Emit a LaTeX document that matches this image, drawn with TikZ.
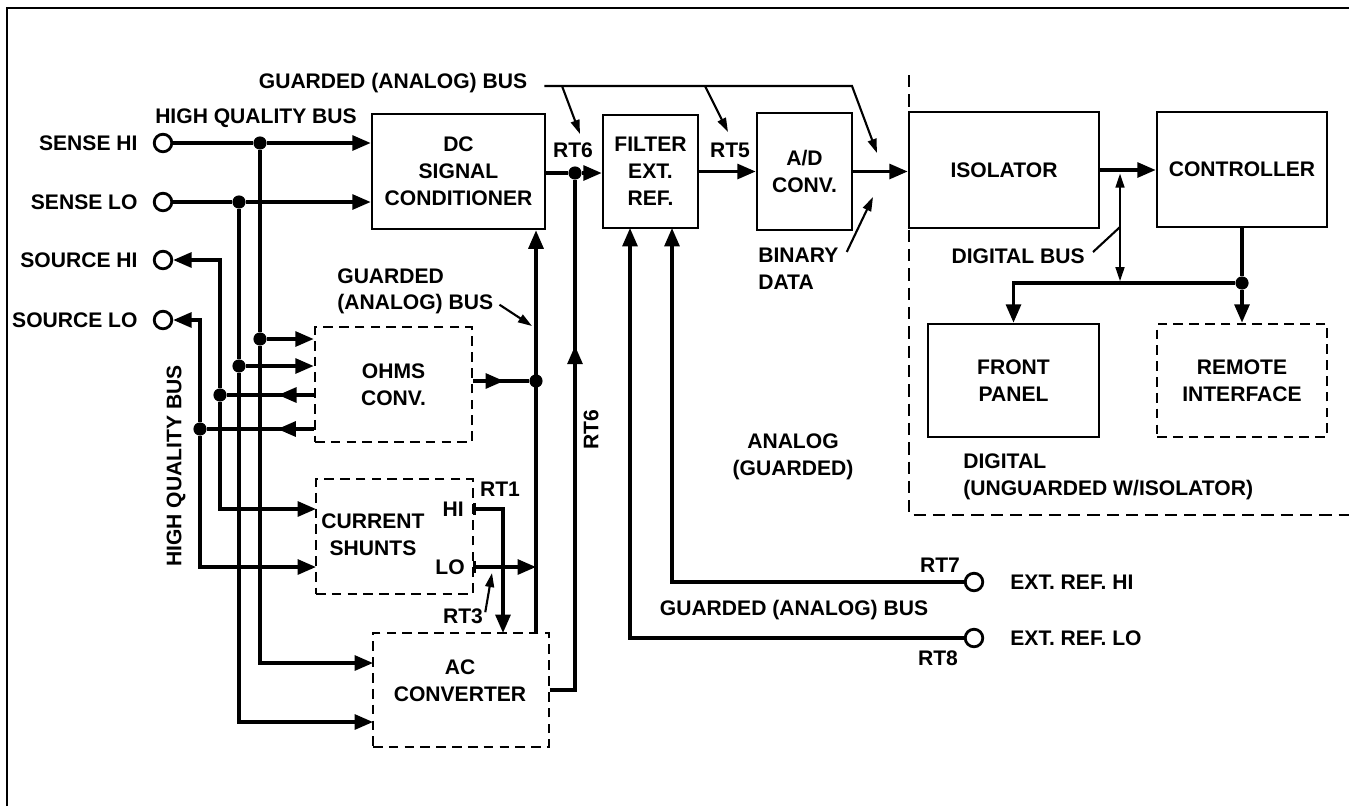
\documentclass[tikz,border=0pt]{standalone}
\usepackage{fontspec}
\setmainfont{Liberation Sans}
\usetikzlibrary{arrows.meta,positioning,calc,decorations.markings}

\begin{document}
\begin{tikzpicture}[x=0.02cm, y=-0.02cm,
    font=\fontsize{12}{15.3}\selectfont\bfseries,
    txt/.style={inner sep=0pt, align=center},
    tlbl/.style={inner sep=0pt, label distance=8.5pt},
    blk/.style={draw, line width=1.5pt, inner sep=2pt, align=center},
    dblk/.style={blk, dash pattern=on 5.5pt off 3.5pt},
    wire/.style={line width=1.9pt},
    arr/.style={wire, -{Triangle[length=10.5pt,width=8.5pt]}},
    ptr/.style={line width=1.2pt, -{Triangle[length=8pt,width=5pt]}},
    sep/.style={line width=1pt, dash pattern=on 7pt off 4pt},
    dot/.style={circle, fill=black, inner sep=0pt, minimum size=7.5pt},
    term/.style={circle, draw, line width=1.6pt, fill=white, inner sep=0pt, minimum size=10pt},
    midarr/.style={postaction={decorate}, decoration={markings,
        mark=at position #1 with {\arrow{Triangle[length=10.5pt,width=8.5pt]}}}},
  ]
  \useasboundingbox (0,0) rectangle (1349,806);
  \draw[line width=1pt] (7,806) -- (7,8) -- (1349,8);

  % blocks
  \node[blk, minimum width=3.46cm, minimum height=2.3cm] (dc) at (458.5,171.5) {DC\\SIGNAL\\CONDITIONER};
  \node[blk, minimum width=1.9cm, minimum height=2.26cm] (flt) at (650.5,171.5) {FILTER\\EXT.\\REF.};
  \node[blk, minimum width=1.9cm, minimum height=2.34cm] (adc) at (804.5,171.5) {A/D\\CONV.};
  \node[blk, minimum width=3.8cm, minimum height=2.32cm] (iso) at (1004,170) {ISOLATOR};
  \node[blk, minimum width=3.4cm, minimum height=2.3cm] (ctl) at (1242,169.5) {CONTROLLER};
  \node[blk, minimum width=3.42cm, minimum height=2.26cm] (fp) at (1013.5,380.5) {FRONT\\PANEL};
  \node[dblk, minimum width=3.4cm, minimum height=2.26cm] (ri) at (1242,380.5) {REMOTE\\INTERFACE};
  \node[dblk, minimum width=3.14cm, minimum height=2.3cm] (ohm) at (393.5,384.5) {OHMS\\CONV.};
  \node[dblk, minimum width=3.14cm, minimum height=2.3cm] (shunt) at (394.5,536.5) {};
  \node[txt] (shtxt) at (373,535) {CURRENT\\SHUNTS};
  \node[dblk, minimum width=3.52cm, minimum height=2.28cm] (acc) at (461,690) {};
  \node[txt] (actxt) at (460,681) {AC\\CONVERTER};

  % terminals
  \node[term, label={[tlbl]left:SENSE HI}] (shi) at (163,143) {};
  \node[term, label={[tlbl]left:SENSE LO}] (slo) at (163,202) {};
  \node[term, label={[tlbl]left:SOURCE HI}] (srchi) at (163,260) {};
  \node[term, label={[tlbl]left:SOURCE LO}] (srclo) at (163,320) {};
  \node[term, label={[tlbl, label distance=14.7pt]right:EXT. REF. HI}] (exthi) at (974,582) {};
  \node[term, label={[tlbl, label distance=14.7pt]right:EXT. REF. LO}] (extlo) at (974,638) {};

  % junctions
  \node[dot] (j1) at (260,143) {};
  \node[dot] (j2) at (239,202) {};
  \node[dot] (j3) at (260,339) {};
  \node[dot] (j4) at (239,366) {};
  \node[dot] (j5) at (220,395) {};
  \node[dot] (j6) at (200,429) {};
  \node[dot] (j7) at (536,381) {};
  \node[dot] (j8) at (575,173) {};
  \node[dot] (j9) at (1242,283) {};

  \coordinate (si1) at (316,509);
  \coordinate (si2) at (316,567);
  \coordinate (ai1) at (373,663);
  \coordinate (ai2) at (373,722);
  \coordinate (sho1) at (473,509);
  \coordinate (sho2) at (473,567);
  \coordinate (acrt1) at (503,633);
  \coordinate (gbot) at (536,633);
  \coordinate (fl1) at (630,228);
  \coordinate (fl2) at (672,228);
  \coordinate (jd) at (1120,170);
  \coordinate (jb) at (1120,283);

  % high quality bus
  \draw[wire] (shi) -- (j1);
  \draw[arr] (j1) -- (dc.west |- j1);
  \draw[wire] (slo) -- (j2);
  \draw[arr] (j2) -- (dc.west |- j2);
  \draw[wire] (j1) -- (j3);
  \draw[arr] (j3) -- (ohm.west |- j3);
  \draw[arr] (j3) |- (ai1);
  \draw[wire] (j2) -- (j4);
  \draw[arr] (j4) -- (ohm.west |- j4);
  \draw[arr] (j4) |- (ai2);
  \draw[arr] (j5) |- (srchi);
  \draw[arr] (j5) |- (si1);
  \draw[arr] (j6) |- (srclo);
  \draw[arr] (j6) |- (si2);
  \draw[wire, midarr=0.41] (ohm.west |- j5) -- (j5);
  \draw[wire, midarr=0.34] (ohm.west |- j6) -- (j6);

  % guarded bus
  \draw[wire, midarr=0.55] (ohm.east |- j7) -- (j7);
  \draw[arr] (gbot) -- (gbot |- dc.south);
  \draw[wire, {Bar[width=7pt]}-{Triangle[length=10.5pt,width=8.5pt]}] (sho1) -| (acrt1);
  \draw[wire, {Bar[width=7pt]}-{Triangle[length=10.5pt,width=8.5pt]}] (sho2) -- (gbot |- sho2);
  \draw[wire, midarr=0.69] (acc.east) -| (j8);
  \draw[wire] (dc.east |- j8) -- (j8);
  \draw[arr] (j8) -- (flt.west |- j8);
  \draw[arr] (flt.east) -- (adc.west);
  \draw[arr] (adc.east) -- (iso.west |- adc.east);
  \draw[arr] (extlo) -| (fl1);
  \draw[arr] (exthi) -| (fl2);

  % digital side
  \draw[arr] (iso.east) -- (ctl.west |- iso.east);
  \draw[line width=1.2pt, {Triangle[length=8pt,width=5pt]}-{Triangle[length=8pt,width=5pt]},
    shorten <=2pt, shorten >=1pt] (jd) -- (jb);
  \draw[wire] (ctl.south) -- (j9);
  \draw[arr] (j9) -| (fp.north);
  \draw[arr] (j9) -- (ri.north);
  \draw[sep] (909,75) -- (909,515) -- (1349,515);

  % labels
  \node[txt] (hqb) at (256,118) {HIGH QUALITY BUS};
  \node[txt, rotate=90] (hqbv) at (176,466) {HIGH QUALITY BUS};
  \node[txt] (gbtop) at (393,83) {GUARDED (ANALOG) BUS};
  \coordinate (gb1) at (562,86);
  \coordinate (gb2) at (705,86);
  \coordinate (gbk) at (852,86);
  \coordinate (gbe) at (877,153);
  \coordinate (rt6p) at (580,134);
  \coordinate (rt5p) at (728,132);
  \draw[ptr] ([shift={(17,3)}]gbtop.east) -- (gbk) -- (gbe);
  \draw[ptr] (gb1) -- (rt6p);
  \draw[ptr] (gb2) -- (rt5p);
  \node[txt] (rt6) at (573,150) {RT6};
  \node[txt] (rt5) at (730,150) {RT5};
  \node[txt, align=left, anchor=west] (bin) at (758,269) {BINARY\\DATA};
  \coordinate (binp) at (873,197);
  \draw[ptr] ([shift={(8,4)}]bin.north east) -- (binp);
  \node[txt, anchor=east] (dbus) at (1085,256) {DIGITAL BUS};
  \coordinate (dbp) at (1120,227);
  \draw[line width=1.2pt] ([shift={(8,-4)}]dbus.east) -- (dbp);
  \node[txt, align=left, anchor=north west] (gbmid) at (337,268) {GUARDED\\(ANALOG) BUS};
  \coordinate (gbmp) at (532,326);
  \draw[ptr] ([shift={(6,-10)}]gbmid.south east) -- (gbmp);
  \node[txt] (rt1) at (500,489) {RT1};
  \node[txt, anchor=east] (hi) at (464,509) {HI};
  \node[txt, anchor=east] (lo) at (465,567) {LO};
  \node[txt] (rt3) at (463,616) {RT3};
  \coordinate (rt3p) at (492,573);
  \draw[ptr] ([shift={(2,4)}]rt3.north east) -- (rt3p);
  \node[txt, rotate=90] (rt6v) at (591,430) {RT6};
  \node[txt] (ana) at (793,457) {ANALOG\\(GUARDED)};
  \node[txt, align=left, anchor=west] (dig) at (963,477) {DIGITAL\\(UNGUARDED W/ISOLATOR)};
  \node[txt] (rt7) at (940,565) {RT7};
  \node[txt] (rt8) at (938,658) {RT8};
  \node[txt] (gblow) at (794,610) {GUARDED (ANALOG) BUS};
\end{tikzpicture}
\end{document}
